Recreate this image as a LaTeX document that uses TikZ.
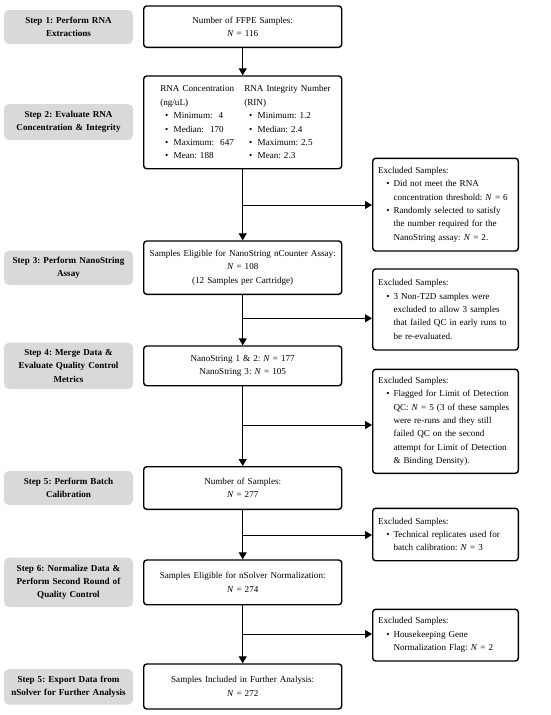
\documentclass[tikz,border=0pt]{standalone}
\usepackage{fontspec}
\setmainfont{Liberation Serif}
\usetikzlibrary{arrows.meta}
\frenchspacing
\newcommand{\bitem}[3]{\par\hangindent=#2\hangafter=1\noindent\makebox[#2][l]{\hspace{#1}\textbullet}\ignorespaces#3}
\newcommand{\NN}{\textit{N}~=~}
\begin{document}
\begin{tikzpicture}[x=1pt,y=-1pt,
  txt/.style={font=\fontsize{9.1}{13.4}\selectfont\frenchspacing},
  graybox/.style={fill=black!15,rounded corners=5pt,text width=125pt,inner xsep=2pt,align=center,font=\fontsize{9.1}{13.4}\selectfont\frenchspacing\bfseries},
  mainbox/.style={txt,draw,line width=1.4pt,rounded corners=3pt,text width=190pt,inner xsep=4pt,align=center},
  exbox/.style={txt,draw,line width=1.4pt,rounded corners=3pt,text width=135pt,inner xsep=5.3pt,align=left},
  arr/.style={line width=1pt,-{Triangle[width=8pt,length=7pt]}}]
\useasboundingbox (0,0) rectangle (550,715);

% step boxes
\node[graybox,minimum height=34pt] (g1) at (68.5,27) {Step 1: Perform RNA\\Extractions};
\node[graybox,minimum height=36pt] (g2) at (68.5,122) {Step 2: Evaluate RNA\\Concentration \& Integrity};
\node[graybox,minimum height=34.3pt] (g3) at (68.5,267.85) {Step 3: Perform NanoString\\Assay};
\node[graybox,minimum height=46.3pt] (g4) at (68.5,365.85) {Step 4: Merge Data \&\\Evaluate Quality Control\\Metrics};
\node[graybox,minimum height=34pt] (g5) at (68.5,488) {Step 5: Perform Batch\\Calibration};
\node[graybox,minimum height=49.3pt] (g6) at (68.5,582.35) {Step 6: Normalize Data \&\\Perform Second Round of\\Quality Control};
\node[graybox,minimum height=35.7pt] (g7) at (68.5,686.85) {Step 5: Export Data from\\nSolver for Further Analysis};

% main boxes
\node[mainbox,minimum height=41.3pt] (b1) at (242.7,26.65) {Number of FFPE Samples:\\\NN116};
\node[mainbox,minimum height=92.7pt,text width=164.8pt,inner xsep=16.6pt,align=left] (b2) at (242.7,122.35)
 {\parbox[t]{84pt}{\raggedright RNA Concentration\\(ng/uL)
   \bitem{4.8pt}{13.4pt}{Minimum:~~4}
   \bitem{4.8pt}{13.4pt}{Median:~~170}
   \bitem{4.8pt}{13.4pt}{Maximum:~~647}
   \bitem{4.8pt}{13.4pt}{Mean: 188}\par}%
  \parbox[t]{80.8pt}{\raggedright\mbox{RNA Integrity Number}\\(RIN)
   \bitem{4.8pt}{13.4pt}{Minimum: 1.2}
   \bitem{4.8pt}{13.4pt}{Median: 2.4}
   \bitem{4.8pt}{13.4pt}{Maximum: 2.5}
   \bitem{4.8pt}{13.4pt}{Mean: 2.3}\par}};
\node[mainbox,minimum height=53.3pt] (b3) at (242.7,267.65) {Samples Eligible for NanoString nCounter Assay:\\\NN108\\(12 Samples per Cartridge)};
\node[mainbox,minimum height=39.7pt] (b4) at (242.7,365.85) {NanoString 1 \& 2: \NN177\\NanoString 3: \NN105};
\node[mainbox,minimum height=42.6pt] (b5) at (242.7,488) {Number of Samples:\\\NN277};
\node[mainbox,minimum height=44.7pt] (b6) at (242.7,582.35) {Samples Eligible for nSolver Normalization:\\\NN274};
\node[mainbox,minimum height=45pt] (b7) at (242.7,686.5) {Samples Included in Further Analysis:\\\NN272};

% exclusion boxes
\node[exbox,minimum height=92.7pt] (e1) at (445.5,204.65) {Excluded Samples:
 \bitem{8.4pt}{15.5pt}{Did not meet the RNA\newline concentration threshold: \NN6}
 \bitem{8.4pt}{15.5pt}{Randomly selected to satisfy\newline the number required for the\newline NanoString assay: \NN2.}\par};
\node[exbox,minimum height=81pt] (e2) at (445.5,309.5) {Excluded Samples:
 \bitem{8.4pt}{15.5pt}{3 Non-T2D samples were\newline excluded to allow 3 samples\newline that failed QC in early runs to\newline be re-evaluated.}\par};
\node[exbox,minimum height=104pt] (e3) at (445.5,421.3) {Excluded Samples:
 \bitem{8.4pt}{15.5pt}{Flagged for Limit of Detection\newline QC: \NN5 (3 of these samples\newline were re-runs and they still\newline failed QC on the second\newline attempt for Limit of Detection\newline \& Binding Density).}\par};
\node[exbox,minimum height=52.4pt] (e4) at (445.5,534.5) {Excluded Samples:
 \bitem{8.4pt}{15.5pt}{Technical replicates used for\newline batch calibration: \NN3}\par};
\node[exbox,minimum height=51.7pt] (e5) at (445.5,635.15) {Excluded Samples:
 \bitem{8.4pt}{15.5pt}{Housekeeping Gene\newline Normalization Flag: \NN2}\par};

% branch points
\coordinate (c1) at (242.7,205);
\coordinate (c2) at (242.7,318.3);
\coordinate (c3) at (242.7,425);
\coordinate (c4) at (242.7,535);
\coordinate (c5) at (242.7,634);

% connectors
\draw[arr] (b1) -- (b2);
\draw[arr] (b2) -- (b3);
\draw[arr] (b3) -- (b4);
\draw[arr] (b4) -- (b5);
\draw[arr] (b5) -- (b6);
\draw[arr] (b6) -- (b7);
\draw[arr] (c1) -- (c1 -| e1.west);
\draw[arr] (c2) -- (c2 -| e2.west);
\draw[arr] (c3) -- (c3 -| e3.west);
\draw[arr] (c4) -- (c4 -| e4.west);
\draw[arr] (c5) -- (c5 -| e5.west);
\end{tikzpicture}
\end{document}
